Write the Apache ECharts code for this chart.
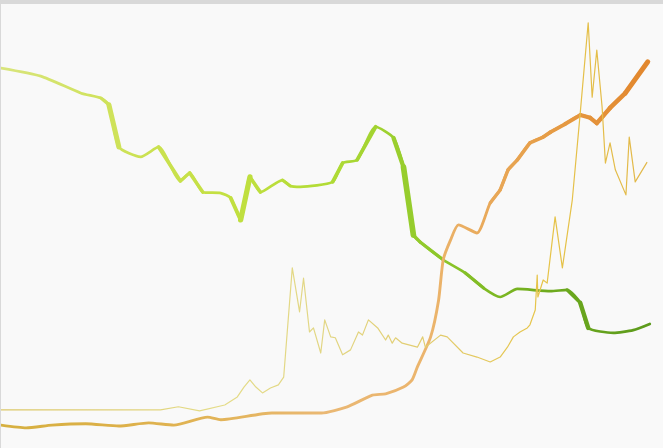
<!DOCTYPE html>
<html>
<head>
<meta charset="utf-8">
<script src="https://cdn.jsdelivr.net/npm/echarts@6/dist/echarts.min.js"></script>
<style>
html,body{margin:0;padding:0;background:#d9d9d9;width:663px;height:448px;overflow:hidden;}
#c{position:absolute;left:1px;top:4px;width:662px;height:444px;background:#f9f9f9;}
</style>
</head>
<body>
<div id="c"></div>
<script>
// x: time index (0-100), y: value (0-100)
const greenX = [0,6.0,12.1,15.1,16.3,17.8,21.1,23.8,27.1,28.5,30.5,33.2,34.7,36.2,37.6,39.2,42.5,43.7,45.2,50.1,51.6,53.8,56.6,59.3,60.8,62.3,63.3,66.8,70.1,72.9,75.4,78.0,83.0,85.5,87.5,88.7,92.5,95.5,98.0];
const greenY = [84.8,83.0,79.2,78.1,76.6,67.2,65.0,67.2,59.6,61.4,57.1,56.9,55.8,50.9,60.5,57.1,59.8,58.5,58.3,59.4,63.6,64.3,71.7,69.2,62.7,47.5,46.0,42.0,39.1,35.7,33.7,35.5,35.0,35.3,32.4,26.8,25.7,26.3,27.7];

const orangeX = [0,3.8,7.7,12.8,17.8,22.3,26.1,31.2,33.2,40.9,48.4,52.3,56.1,58.1,60.8,62.1,62.9,64.9,66.1,66.8,67.9,69.1,71.9,73.9,75.4,76.6,78.0,79.9,81.9,83.0,85.2,87.5,89.0,90.0,92.0,94.3,97.7];
const orangeY = [5.1,4.5,5.1,5.4,4.9,5.6,5.1,6.9,6.3,7.8,7.8,9.2,11.8,12.1,13.6,15.2,18.1,24.8,33.0,42.0,46.4,49.8,48.0,54.7,57.6,62.1,64.3,68.1,69.4,70.5,72.3,74.3,73.7,72.5,75.9,79.2,86.2];

const yellowX = [0,15.1,24.1,26.8,30.0,33.8,35.7,36.7,37.6,38.5,39.5,40.7,41.9,42.7,44.0,45.1,45.7,46.6,47.2,48.3,48.9,49.8,50.5,51.6,52.8,54.0,54.6,55.5,56.9,58.1,58.5,59.1,59.6,60.6,62.9,63.7,64.1,66.4,67.4,69.8,71.9,73.9,75.4,76.5,77.4,78.4,79.5,79.9,80.7,81.0,81.1,81.9,82.5,83.7,84.8,86.3,87.5,88.7,89.3,90.0,90.8,91.3,92.0,92.8,94.4,94.9,95.8,97.6];
const yellowY = [8.5,8.5,8.5,9.2,8.3,9.6,11.4,13.6,15.2,13.6,12.3,13.4,14.1,15.8,40.2,30.4,37.9,25.9,26.8,21.2,28.6,24.8,24.6,20.8,21.9,25.9,25.2,28.6,26.8,24.1,25.2,23.4,24.6,23.4,22.5,24.8,22.5,25.2,24.8,21.2,20.3,19.2,20.3,22.5,24.8,25.9,26.8,27.5,30.8,38.6,33.7,37.5,36.8,51.6,40.2,55.4,74.8,94.9,78.3,88.8,76.1,63.6,68.1,62.1,56.5,69.4,59.4,63.8];

const greenColors = ['#d9e57c', '#cfe25a', '#c4e042', '#b2dc36', '#8ec82a', '#70ac1e', '#5c9a1c'];
const orangeColors = ['#d6b040', '#dcb048', '#e2b458', '#eab874', '#ebb46c', '#e69e48', '#e2862c'];
const yellowColors = ['#dcc868', '#e0d078', '#e4dc88', '#e2d684', '#e2cc6e', '#e6c448', '#e2b84a'];

const X_MAX = 98;
const GREEN_BASE = 2.7, ORANGE_BASE = 2.9;
const greenWidth = (s) => GREEN_BASE + Math.min(3, s * 0.55);
const orangeWidth = (s, t) => ORANGE_BASE + 2.3 * Math.pow(t, 6);

const pairs = (xs, ys) => xs.map((x, i) => [x, ys[i]]);
const segments = (xs, ys) => xs.slice(1).map((x, i) => [xs[i], ys[i], x, ys[i + 1]]);

// overlay thicker strokes where the line swells
function swellRenderer(palette, widthFn, base) {
  return function (params, api) {
    const p0 = api.coord([api.value(0), api.value(1)]);
    const p1 = api.coord([api.value(2), api.value(3)]);
    const t = Math.min(1, ((api.value(0) + api.value(2)) / 2) / X_MAX);
    const slope = Math.abs((p1[1] - p0[1]) / Math.max(0.5, p1[0] - p0[0]));
    const w = widthFn(slope, t);
    if (w < base + 0.4) return null;
    return {
      type: 'line',
      shape: {x1: p0[0], y1: p0[1], x2: p1[0], y2: p1[1]},
      style: {stroke: echarts.color.lerp(t, palette), lineWidth: w, lineCap: 'round'}
    };
  };
}

const chart = echarts.init(document.getElementById('c'), null, {renderer: 'canvas'});
chart.setOption({
  animation: false,
  backgroundColor: '#f9f9f9',
  grid: {left: 0, right: 0, top: 0, bottom: 0},
  xAxis: {type: 'value', min: 0, max: 100, show: false},
  yAxis: {type: 'value', min: 0, max: 99.1, show: false},
  visualMap: [
    {show: false, type: 'continuous', seriesIndex: 0, dimension: 0, min: 0, max: X_MAX, inRange: {color: greenColors}},
    {show: false, type: 'continuous', seriesIndex: 1, dimension: 0, min: 0, max: X_MAX, inRange: {color: orangeColors}},
    {show: false, type: 'continuous', seriesIndex: 2, dimension: 0, min: 0, max: X_MAX, inRange: {color: yellowColors}}
  ],
  series: [
    {type: 'line', data: pairs(greenX, greenY), symbol: 'none', smooth: 0.2,
     lineStyle: {width: GREEN_BASE, cap: 'round', join: 'round'}},
    {type: 'line', data: pairs(orangeX, orangeY), symbol: 'none', smooth: 0.2,
     lineStyle: {width: ORANGE_BASE, cap: 'round', join: 'round'}},
    {type: 'line', data: pairs(yellowX, yellowY), symbol: 'none',
     lineStyle: {width: 1.2, join: 'round'}},
    {type: 'custom', data: segments(greenX, greenY), encode: {x: [0, 2], y: [1, 3]},
     renderItem: swellRenderer(greenColors, greenWidth, GREEN_BASE)},
    {type: 'custom', data: segments(orangeX, orangeY), encode: {x: [0, 2], y: [1, 3]},
     renderItem: swellRenderer(orangeColors, orangeWidth, ORANGE_BASE)}
  ]
});
</script>
</body>
</html>
